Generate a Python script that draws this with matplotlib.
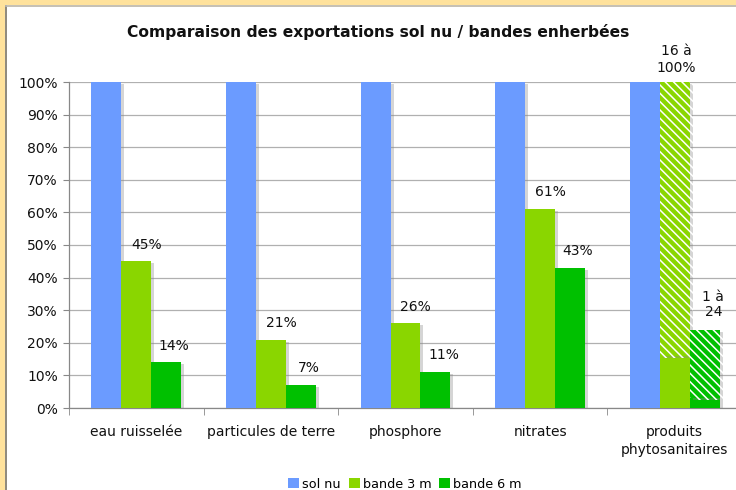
import matplotlib
matplotlib.use("Agg")
import matplotlib.pyplot as plt
import matplotlib.patheffects as pe
from matplotlib.patches import Rectangle, Patch
from matplotlib.ticker import FuncFormatter, MultipleLocator
import numpy as np

categories = ['eau ruisselée', 'particules de terre', 'phosphore', 'nitrates',
              'produits\nphytosanitaires']
sol_nu = [100, 100, 100, 100, 100]
bande_3m = [45, 21, 26, 61, 16]
bande_6m = [14, 7, 11, 43, 3]
# ranges (hatched) for phytosanitary products
range_3m_top = [None, None, None, None, 100]
range_6m_top = [None, None, None, None, 24]
labels_3m = ['45%', '21%', '26%', '61%', '16 à\n100%']
labels_6m = ['14%', '7%', '11%', '43%', '1 à\n24']
series_names = ['sol nu', 'bande 3 m', 'bande 6 m']

c_blue = '#6B9BFF'
c_lime = '#8AD600'
c_green = '#00C000'

W, H = 736, 490
fig = plt.figure(figsize=(W / 100, H / 100), dpi=100)
fig.patch.set_facecolor('#FFE29C')
# white chart area with thin border
fig.patches.append(Rectangle((7 / W, 0), 1 - 7 / W, 1 - 7 / H, transform=fig.transFigure,
                             facecolor='white', edgecolor='none', zorder=-5))
fig.lines.append(plt.Line2D([6.5 / W, 6.5 / W], [0, 1 - 6.5 / H], transform=fig.transFigure,
                            color='#7A7A7A', lw=1.2, zorder=-4))
fig.lines.append(plt.Line2D([6.5 / W, 1], [1 - 6.5 / H, 1 - 6.5 / H], transform=fig.transFigure,
                            color='#BBBBBB', lw=1.2, zorder=-4))

ax = fig.add_axes([69 / W, 82 / H, (742 - 69) / W, (408 - 82) / H])
ax.set_facecolor('none')

x = np.arange(len(categories))
bw = 0.222
shadow = [pe.SimplePatchShadow(offset=(2.2, -1.5), shadow_rgbFace='#888888', alpha=0.35),
          pe.Normal()]

ax.bar(x - bw, sol_nu, bw, color=c_blue, zorder=3, path_effects=shadow)
ax.bar(x, bande_3m, bw, color=c_lime, zorder=3, path_effects=shadow)
ax.bar(x + bw, bande_6m, bw, color=c_green, zorder=3, path_effects=shadow)

plt.rcParams['hatch.linewidth'] = 1.1
for i in range(len(categories)):
    if range_3m_top[i] is not None:
        ax.bar(x[i], range_3m_top[i] - bande_3m[i], bw, bottom=bande_3m[i], color=c_lime,
               edgecolor='white', linewidth=0, hatch='\\\\\\\\', zorder=3, path_effects=shadow)
    if range_6m_top[i] is not None:
        ax.bar(x[i] + bw, range_6m_top[i] - bande_6m[i], bw, bottom=bande_6m[i], color=c_green,
               edgecolor='white', linewidth=0, hatch='\\\\\\\\', zorder=3, path_effects=shadow)

# value labels
for i in range(len(categories)):
    top3 = range_3m_top[i] if range_3m_top[i] is not None else bande_3m[i]
    top6 = range_6m_top[i] if range_6m_top[i] is not None else bande_6m[i]
    multi3 = '\n' in labels_3m[i]
    multi6 = '\n' in labels_6m[i]
    dx3 = 0.01 if multi3 else 0.075
    dx6 = 0.065 if multi6 else 0.06
    ax.annotate(labels_3m[i], (x[i] + dx3, top3), xytext=(0, 7 if not multi3 else 5),
                textcoords='offset points', ha='center', va='bottom', fontsize=10,
                color='#111111', zorder=5, linespacing=1.3 if multi3 else 1.1,
                annotation_clip=False)
    ax.annotate(labels_6m[i], (x[i] + bw + dx6, top6), xytext=(0, 7 if not multi6 else 8),
                textcoords='offset points', ha='center', va='bottom', fontsize=10,
                color='#111111', zorder=5, linespacing=1.1, annotation_clip=False)

ax.set_xlim(-0.5, len(categories) - 0.5)
ax.set_ylim(0, 100)
ax.yaxis.set_major_locator(MultipleLocator(10))
ax.yaxis.set_major_formatter(FuncFormatter(lambda v, p: f'{int(round(v))}%'))
ax.grid(axis='y', color='#B0B0B0', lw=0.9, zorder=1)
ax.set_axisbelow(True)
for s in ['top', 'right']:
    ax.spines[s].set_visible(False)
ax.spines['left'].set_color('#888888')
ax.spines['bottom'].set_color('#888888')
ax.spines['left'].set_linewidth(0.9)
ax.spines['bottom'].set_linewidth(0.9)
ax.tick_params(axis='y', length=4, color='#888888', labelsize=10, pad=4, labelcolor='#111111')

ax.set_xticks(x)
ax.set_xticklabels(categories, fontsize=10, color='#111111', linespacing=1.35)
ax.tick_params(axis='x', length=0, pad=12)
ax.set_xticks(np.arange(len(categories) + 1) - 0.5, minor=True)
ax.tick_params(axis='x', which='minor', length=5, color='#888888')

fig.text(378 / W, 1 - 32 / H, 'Comparaison des exportations sol nu / bandes enherbées',
         ha='center', va='center', fontsize=11.2, fontweight='bold', color='#111111')

handles = [Patch(facecolor=c, edgecolor='none') for c in (c_blue, c_lime, c_green)]
fig.legend(handles=handles, labels=series_names, loc='center',
           bbox_to_anchor=(405 / W, 1 - 484 / H), ncol=3, frameon=False, fontsize=9.2,
           handlelength=0.85, handleheight=0.85, handletextpad=0.25, columnspacing=0.6,
           borderaxespad=0)

fig.savefig('out.png', dpi=100, facecolor=fig.get_facecolor())
